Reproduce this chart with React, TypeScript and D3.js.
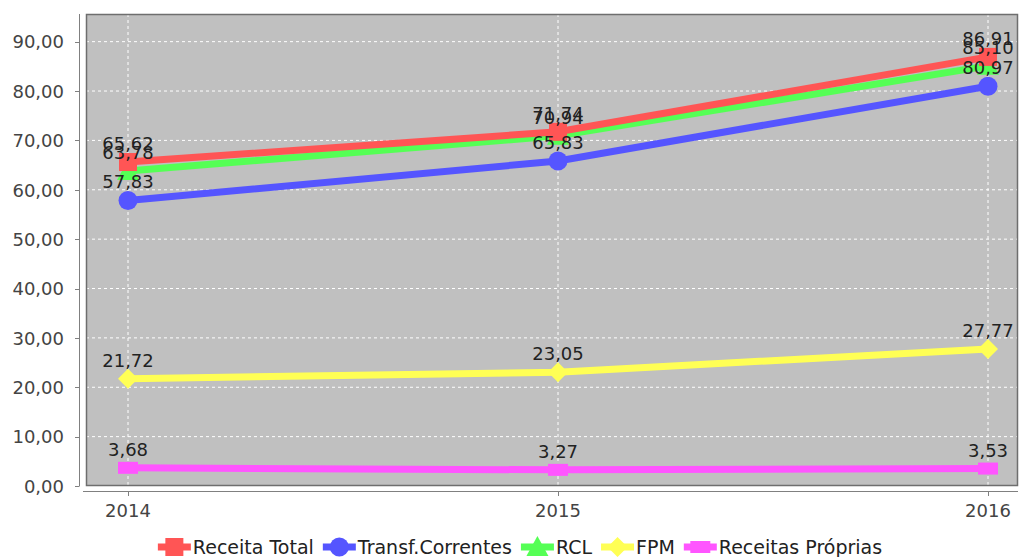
import { useEffect, useRef } from "react";
import * as d3 from "d3";

const years = ["2014", "2015", "2016"];
const seriesNames = ["Receita Total", "Transf.Correntes", "RCL", "FPM", "Receitas Próprias"];
const receitaTotal = [65.62, 71.74, 86.91];
const transfCorrentes = [57.83, 65.83, 80.97];
const rcl = [63.78, 70.94, 85.1];
const fpm = [21.72, 23.05, 27.77];
const receitasProprias = [3.68, 3.27, 3.53];
const yTicks = [0, 10, 20, 30, 40, 50, 60, 70, 80, 90];

const colors = ["#ff5555", "#5555ff", "#55ff55", "#ffff55", "#ff55ff"];
const shapes = ["square", "circle", "triangle", "diamond", "rect"];

const W = 1022;
const H = 557;
const FONT = "'DejaVu Sans', Verdana, sans-serif";

function App() {
  const svgRef = useRef<SVGSVGElement | null>(null);

  useEffect(() => {
    const svg = d3.select(svgRef.current);
    svg.selectAll("*").remove();

    const plot = { left: 86, top: 14, right: 1018, bottom: 486 };
    const values = [receitaTotal, transfCorrentes, rcl, fpm, receitasProprias];
    const yMax = d3.max(receitaTotal)! * 1.1;

    const x = d3
      .scalePoint<string>()
      .domain(years)
      .range([plot.left + 42, plot.right - 30]);
    const y = d3.scaleLinear().domain([0, yMax]).range([plot.bottom, plot.top]);
    const fmt = (v: number) => d3.format(".2f")(v).replace(".", ",");

    // plot background
    svg
      .append("rect")
      .attr("x", plot.left)
      .attr("y", plot.top)
      .attr("width", plot.right - plot.left)
      .attr("height", plot.bottom - plot.top)
      .attr("fill", "#c0c0c0");

    // grid
    svg
      .append("g")
      .selectAll("line")
      .data(yTicks)
      .join("line")
      .attr("x1", plot.left)
      .attr("x2", plot.right)
      .attr("y1", (d) => y(d))
      .attr("y2", (d) => y(d))
      .attr("stroke", "#ffffff")
      .attr("stroke-width", 1)
      .attr("stroke-dasharray", "3,3");
    svg
      .append("g")
      .selectAll("line")
      .data(years)
      .join("line")
      .attr("x1", (d) => x(d)!)
      .attr("x2", (d) => x(d)!)
      .attr("y1", plot.top)
      .attr("y2", plot.bottom)
      .attr("stroke", "#ffffff")
      .attr("stroke-width", 1)
      .attr("stroke-dasharray", "3,3");

    svg
      .append("rect")
      .attr("x", plot.left + 0.5)
      .attr("y", plot.top + 0.5)
      .attr("width", plot.right - plot.left - 1)
      .attr("height", plot.bottom - plot.top - 1)
      .attr("fill", "none")
      .attr("stroke", "#6e6e6e")
      .attr("stroke-width", 1.5);

    // y axis
    const yAxis = svg.append("g");
    yAxis
      .append("line")
      .attr("x1", 79.5)
      .attr("x2", 79.5)
      .attr("y1", plot.top)
      .attr("y2", plot.bottom)
      .attr("stroke", "#808080");
    yAxis
      .selectAll("line.tick")
      .data(yTicks)
      .join("line")
      .attr("class", "tick")
      .attr("x1", 75)
      .attr("x2", 79.5)
      .attr("y1", (d) => Math.round(y(d)) + 0.5)
      .attr("y2", (d) => Math.round(y(d)) + 0.5)
      .attr("stroke", "#808080");
    yAxis
      .selectAll("text")
      .data(yTicks)
      .join("text")
      .attr("x", 64)
      .attr("y", (d) => y(d))
      .attr("dy", "0.38em")
      .attr("text-anchor", "end")
      .attr("font-family", FONT)
      .attr("font-size", 18)
      .attr("fill", "#444444")
      .text((d) => fmt(d));

    // x axis
    const xAxis = svg.append("g");
    xAxis
      .append("line")
      .attr("x1", plot.left - 3)
      .attr("x2", plot.right)
      .attr("y1", 491.5)
      .attr("y2", 491.5)
      .attr("stroke", "#808080");
    xAxis
      .selectAll("line.tick")
      .data(years)
      .join("line")
      .attr("class", "tick")
      .attr("x1", (d) => x(d)! + 0.5)
      .attr("x2", (d) => x(d)! + 0.5)
      .attr("y1", 491.5)
      .attr("y2", 496)
      .attr("stroke", "#808080");
    xAxis
      .selectAll("text")
      .data(years)
      .join("text")
      .attr("x", (d) => x(d)!)
      .attr("y", 517)
      .attr("text-anchor", "middle")
      .attr("font-family", FONT)
      .attr("font-size", 18)
      .attr("fill", "#444444")
      .text((d) => d);

    const drawShape = (
      g: d3.Selection<SVGGElement, unknown, null, undefined>,
      shape: string,
      cx: number,
      cy: number,
      color: string
    ) => {
      if (shape === "square") {
        g.append("rect").attr("x", cx - 9).attr("y", cy - 9).attr("width", 18).attr("height", 18).attr("fill", color);
      } else if (shape === "circle") {
        g.append("circle").attr("cx", cx).attr("cy", cy).attr("r", 9.5).attr("fill", color);
      } else if (shape === "triangle") {
        g.append("path")
          .attr("d", `M${cx},${cy - 11}L${cx + 11},${cy + 9}L${cx - 11},${cy + 9}Z`)
          .attr("fill", color);
      } else if (shape === "diamond") {
        g.append("path")
          .attr("d", `M${cx},${cy - 10}L${cx + 10},${cy}L${cx},${cy + 10}L${cx - 10},${cy}Z`)
          .attr("fill", color);
      } else {
        g.append("rect").attr("x", cx - 10).attr("y", cy - 6).attr("width", 20).attr("height", 12).attr("fill", color);
      }
    };

    const line = d3
      .line<number>()
      .x((_, i) => x(years[i])!)
      .y((d) => y(d));

    // series, last first so Receita Total ends on top
    const seriesG = svg.append("g");
    for (let s = values.length - 1; s >= 0; s--) {
      const g = seriesG.append("g");
      g.append("path")
        .datum(values[s])
        .attr("fill", "none")
        .attr("stroke", colors[s])
        .attr("stroke-width", 7)
        .attr("d", line);
      values[s].forEach((v, i) => drawShape(g, shapes[s], x(years[i])!, y(v), colors[s]));
    }

    // value labels
    const labelG = svg.append("g");
    values.forEach((vals) => {
      vals.forEach((v, i) => {
        labelG
          .append("text")
          .attr("x", x(years[i])!)
          .attr("y", y(v) - 12)
          .attr("text-anchor", "middle")
          .attr("font-family", FONT)
          .attr("font-size", 18)
          .attr("fill", "#222222")
          .text(fmt(v));
      });
    });

    // legend
    const legend = svg.append("g");
    const items: { g: d3.Selection<SVGGElement, unknown, null, undefined>; w: number }[] = [];
    seriesNames.forEach((name, s) => {
      const g = legend.append("g");
      g.append("line")
        .attr("x1", 0)
        .attr("x2", 33)
        .attr("y1", 547)
        .attr("y2", 547)
        .attr("stroke", colors[s])
        .attr("stroke-width", 7);
      drawShape(g, shapes[s], 16.5, 547, colors[s]);
      const t = g
        .append("text")
        .attr("x", 35)
        .attr("y", 554)
        .attr("font-family", FONT)
        .attr("font-size", 19)
        .attr("fill", "#222222")
        .text(name);
      const tw = (t.node() as SVGTextElement).getComputedTextLength();
      items.push({ g, w: 35 + tw });
    });
    const gap = 9;
    const total = d3.sum(items, (d) => d.w) + gap * (items.length - 1);
    let cur = 520 - total / 2;
    items.forEach((it) => {
      it.g.attr("transform", `translate(${cur},0)`);
      cur += it.w + gap;
    });
  }, []);

  return (
    <svg
      ref={svgRef}
      width={W}
      height={H}
      viewBox={`0 0 ${W} ${H}`}
      style={{ position: "absolute", left: 0, top: 0, background: "#ffffff" }}
    />
  );
}

export default App;
